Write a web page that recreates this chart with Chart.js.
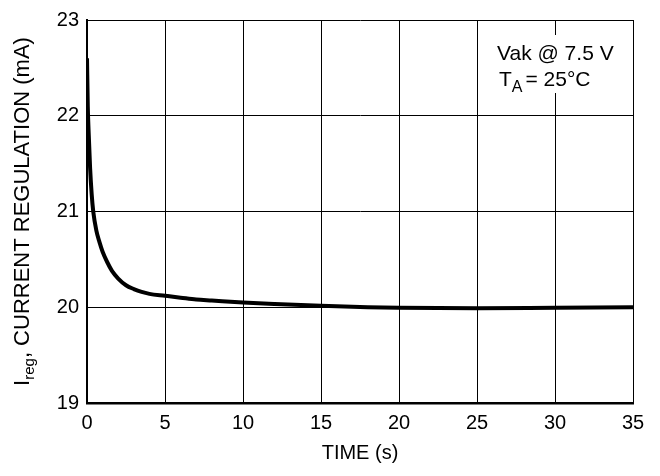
<!DOCTYPE html>
<html>
<head>
<meta charset="utf-8">
<script src="https://cdn.jsdelivr.net/npm/chart.js@4.4.1/dist/chart.umd.min.js"></script>
<style>
  html, body { margin: 0; padding: 0; background: #fff; }
  #wrap { width: 660px; height: 476px; }
</style>
</head>
<body>
<div id="wrap"><canvas id="regChart" width="660" height="476"></canvas></div>
<script>
// curve
const timeSec   = [0, 0.05, 0.1, 0.2, 0.3, 0.4, 0.6, 0.8, 1.0, 1.3, 1.6, 2, 2.5, 3, 3.5, 4, 5, 6, 7, 8, 10, 12, 15, 18, 20, 25, 30, 35];
const currentMA = [22.6, 22.1, 21.85, 21.45, 21.18, 21.0, 20.8, 20.68, 20.58, 20.47, 20.38, 20.3, 20.23, 20.19, 20.16, 20.14, 20.12, 20.1, 20.08, 20.07, 20.05, 20.035, 20.015, 20.0, 19.995, 19.99, 19.995, 20.0];

const xRange = [0, 35];
const yRange = [19, 23];

const FONT = "'Liberation Sans', Arial, Helvetica, sans-serif";

// titles + condition box, drawn by hand for the subscripts
const labelsPlugin = {
    id: 'labels',
    afterDraw(chart) {
        const ctx = chart.ctx;
        const area = chart.chartArea;
        ctx.save();
        ctx.fillStyle = '#000';
        ctx.textBaseline = 'alphabetic';

        // x title
        ctx.font = `20px ${FONT}`;
        ctx.textAlign = 'center';
        ctx.fillText('TIME (s)', (area.left + area.right) / 2, 459);

        // y title with subscript
        ctx.translate(29, (area.top + area.bottom) / 2);
        ctx.rotate(-Math.PI / 2);
        ctx.textAlign = 'left';
        const main = `22px ${FONT}`, sub = `15px ${FONT}`;
        ctx.font = main; const wI = ctx.measureText('I').width;
        const rest = ', CURRENT REGULATION (mA)';
        const wRest = ctx.measureText(rest).width;
        ctx.font = sub; const wSub = ctx.measureText('reg').width;
        let x = -(wI + wSub + wRest) / 2;
        ctx.font = main; ctx.fillText('I', x, 0); x += wI;
        ctx.font = sub; ctx.fillText('reg', x, 5); x += wSub;
        ctx.font = main; ctx.fillText(rest, x, 0);
        ctx.restore();

        // condition box
        ctx.save();
        ctx.fillStyle = '#fff';
        ctx.fillRect(492, 35, 128, 58);
        ctx.fillStyle = '#000';
        ctx.textBaseline = 'alphabetic';
        ctx.textAlign = 'left';
        ctx.font = `21px ${FONT}`;
        ctx.fillText('Vak @ 7.5 V', 497, 60);
        ctx.fillText('T', 499, 86);
        let tx = 499 + ctx.measureText('T').width;
        ctx.font = `16px ${FONT}`;
        ctx.fillText('A', tx, 92);
        tx += ctx.measureText('A').width + 3;
        ctx.font = `21px ${FONT}`;
        ctx.fillText('= 25\u00B0C', tx, 86);
        ctx.restore();
    }
};

new Chart(document.getElementById('regChart'), {
    type: 'line',
    data: {
        datasets: [{
            data: timeSec.map((t, i) => ({ x: t, y: currentMA[i] })),
            borderColor: '#000',
            borderWidth: 4,
            pointRadius: 0,
            fill: false,
            cubicInterpolationMode: 'monotone'
        }]
    },
    options: {
        responsive: false,
        animation: false,
        layout: { padding: { top: 19, right: 27, left: 0, bottom: 0 } },
        plugins: { legend: { display: false }, tooltip: { enabled: false } },
        scales: {
            x: {
                type: 'linear',
                min: xRange[0], max: xRange[1],
                afterFit: s => { s.height = 73; },
                ticks: { stepSize: 5, color: '#000', font: { family: FONT, size: 20 }, padding: 8, maxRotation: 0 },
                grid: { color: '#000', lineWidth: 1, drawTicks: false },
                border: { color: '#000', width: 2.5 }
            },
            y: {
                min: yRange[0], max: yRange[1],
                afterFit: s => { s.width = 87; },
                ticks: { stepSize: 1, color: '#000', font: { family: FONT, size: 20 }, padding: 8 },
                grid: { color: '#000', lineWidth: 1, drawTicks: false },
                border: { color: '#000', width: 2 }
            }
        }
    },
    plugins: [labelsPlugin]
});
</script>
</body>
</html>
